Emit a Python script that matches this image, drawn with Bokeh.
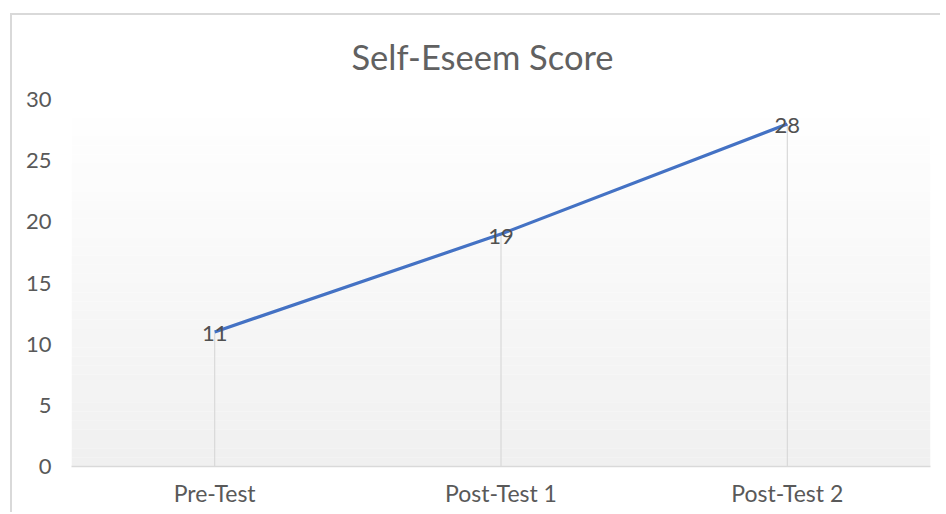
from bokeh.plotting import figure
from bokeh.models import Range1d, FactorRange, BoxAnnotation, ColumnDataSource
from bokeh.embed import file_html
from bokeh.resources import INLINE
from bokeh.core.properties import value

categories = ["Pre-Test", "Post-Test 1", "Post-Test 2"]
scores = [11, 19, 28]
y_ticks = [0, 5, 10, 15, 20, 25, 30]
title_text = "Self-Eseem Score"

FONT = "Lato"

p = figure(x_range=FactorRange(*categories, range_padding=0), y_range=Range1d(0, 30),
           width=930, height=499, output_backend="svg", toolbar_location=None,
           min_border_left=59, min_border_right=12, min_border_top=83, min_border_bottom=48,
           title=title_text)
p.styles = {"margin-left": "10px", "margin-top": "13px",
            "border-left": "2px solid #d9d9d9", "border-top": "2px solid #d9d9d9"}
p.outline_line_color = None
p.background_fill_color = "white"
p.border_fill_color = "white"
p.xgrid.grid_line_color = None
p.ygrid.grid_line_color = None

p.title.align = "left"
p.title.offset = 280
p.title.standoff = 41
p.title.vertical_align = "top"
p.title.text_font = FONT
p.title.text_font_size = "34.5px"
p.title.text_font_style = "normal"
p.title.text_color = "#616161"

# gradient background of the plot area
n = 40
for i in range(n):
    t = i / (n - 1)
    c = int(round(255 - (255 - 240) * t))
    top = 30 - 30 * i / n
    bot = 30 - 30 * (i + 1) / n
    p.add_layout(BoxAnnotation(bottom=bot, top=top, fill_color=f"#{c:02x}{c:02x}{c:02x}",
                               fill_alpha=1, line_color=None, level="underlay"))

src = ColumnDataSource(dict(x=categories, y=scores, y0=[0] * len(scores),
                            lab=[str(v) for v in scores]))
p.segment(x0="x", y0="y0", x1="x", y1="y", source=src, line_color="#d9d9d9", line_width=1.2)
p.line(x="x", y="y", source=src, line_color="#4472C4", line_width=3.2)
p.text(x="x", y="y", text="lab", source=src, text_align="center", text_baseline="middle",
       text_font=value(FONT), text_font_size="22px", text_color="#505050", y_offset=2)

p.yaxis.ticker = y_ticks
p.yaxis.axis_line_color = None
p.yaxis.major_tick_line_color = None
p.yaxis.minor_tick_line_color = None
p.yaxis.major_tick_out = 0
p.yaxis.major_tick_in = 0
p.yaxis.major_label_standoff = 20
p.yaxis.major_label_text_font = FONT
p.yaxis.major_label_text_font_size = "22px"
p.yaxis.major_label_text_color = "#595959"

p.xaxis.axis_line_color = "#d9d9d9"
p.xaxis.axis_line_width = 1.5
p.xaxis.major_tick_line_color = None
p.xaxis.minor_tick_line_color = None
p.xaxis.major_tick_out = 0
p.xaxis.major_tick_in = 0
p.xaxis.major_label_standoff = 12
p.xaxis.major_label_text_font = FONT
p.xaxis.major_label_text_font_size = "23px"
p.xaxis.major_label_text_color = "#595959"

open("out.html", "w").write(file_html(p, INLINE))
